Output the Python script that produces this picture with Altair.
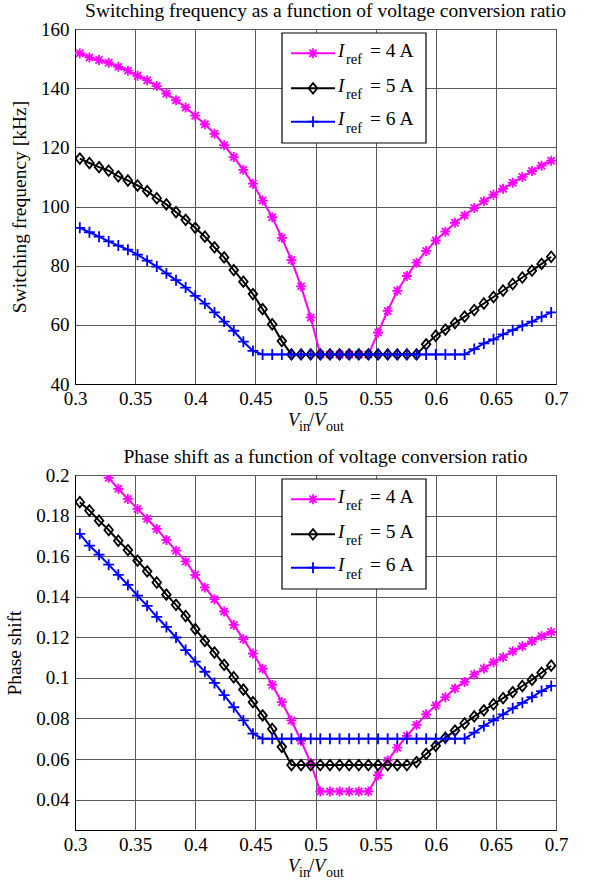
import altair as alt
import pandas as pd

# ---------------- data ----------------
x_vals = [0.304, 0.312, 0.32, 0.328, 0.336, 0.344, 0.352, 0.36, 0.368, 0.376,
          0.384, 0.392, 0.4, 0.408, 0.416, 0.424, 0.432, 0.44, 0.448, 0.456,
          0.464, 0.472, 0.48, 0.488, 0.496, 0.504, 0.512, 0.52, 0.528, 0.536,
          0.544, 0.552, 0.56, 0.568, 0.576, 0.584, 0.592, 0.6, 0.608, 0.616,
          0.624, 0.632, 0.64, 0.648, 0.656, 0.664, 0.672, 0.68, 0.688, 0.696]

freq_4A = [151.8, 150.4, 149.5, 148.6, 147.2, 145.9, 144.2, 142.7, 140.7, 138.2,
           135.9, 133.5, 130.7, 127.8, 124.6, 120.7, 116.7, 112.4, 107.7, 102.0,
           96.4, 89.4, 81.9, 73.0, 62.5, 50, 50, 50, 50, 50,
           50, 57.4, 64.7, 71.5, 76.5, 81, 85, 88.5, 91.5, 94.5,
           97, 99.5, 101.8, 104, 106, 108, 110, 112, 113.8, 115.5]
freq_5A = [116.2, 114.7, 113.3, 112.1, 110.2, 108.8, 107.1, 105.2, 102.8, 100.7,
           98.1, 95.5, 92.8, 89.8, 86.2, 82.8, 78.5, 74.6, 70.4, 65.3,
           60.2, 54.5, 50, 50, 50, 50, 50, 50, 50, 50,
           50, 50, 50, 50, 50, 50, 53.4, 56.3, 58.4, 60.6,
           62.8, 65.0, 67.2, 69.4, 71.6, 73.8, 76.0, 78.3, 80.6, 83.0]
freq_6A = [92.8, 91.3, 89.8, 88.2, 86.8, 85.4, 83.7, 81.7, 79.7, 77.4,
           75.1, 72.6, 69.8, 67.2, 64.2, 61.1, 58.0, 54.3, 51.2, 50,
           50, 50, 50, 50, 50, 50, 50, 50, 50, 50,
           50, 50, 50, 50, 50, 50, 50, 50, 50, 50,
           50, 51.8, 53.7, 55.1, 56.8, 58.2, 59.7, 61.1, 62.7, 64.2]

phase_4A = [0.2145, 0.2095, 0.2040, 0.1986, 0.1932, 0.1882, 0.1833, 0.1784, 0.1734, 0.1680,
            0.1627, 0.1574, 0.1508, 0.1446, 0.1388, 0.1327, 0.1261, 0.1191, 0.1120, 0.1045,
            0.0965, 0.0880, 0.0790, 0.0690, 0.0580, 0.044, 0.044, 0.044, 0.044, 0.044,
            0.044, 0.0520, 0.0592, 0.0656, 0.0714, 0.0768, 0.0820, 0.0864, 0.0905, 0.0948,
            0.0980, 0.1017, 0.1046, 0.1077, 0.1102, 0.1131, 0.1156, 0.1180, 0.1205, 0.1226]
phase_5A = [0.1866, 0.1825, 0.1775, 0.1729, 0.1676, 0.1630, 0.1578, 0.1525, 0.1470, 0.1410,
            0.1360, 0.1305, 0.1240, 0.1182, 0.1125, 0.1064, 0.1003, 0.0942, 0.0880, 0.0815,
            0.0748, 0.0660, 0.057, 0.057, 0.057, 0.057, 0.057, 0.057, 0.057, 0.057,
            0.057, 0.057, 0.057, 0.057, 0.057, 0.0585, 0.0625, 0.0665, 0.0705, 0.0740,
            0.0775, 0.0810, 0.0840, 0.0870, 0.0900, 0.0930, 0.0960, 0.0990, 0.1025, 0.1060]
phase_6A = [0.1710, 0.1652, 0.1607, 0.1558, 0.1508, 0.1458, 0.1405, 0.1355, 0.1301, 0.1251,
            0.1199, 0.1137, 0.1080, 0.1030, 0.0975, 0.0915, 0.0855, 0.0790, 0.0725, 0.07,
            0.07, 0.07, 0.07, 0.07, 0.07, 0.07, 0.07, 0.07, 0.07, 0.07,
            0.07, 0.07, 0.07, 0.07, 0.07, 0.07, 0.07, 0.07, 0.07, 0.07,
            0.07, 0.0730, 0.0763, 0.0791, 0.0820, 0.0850, 0.0877, 0.0905, 0.0935, 0.0960]

series_labels = ["= 4 A", "= 5 A", "= 6 A"]
x_ticks = [0.3, 0.35, 0.4, 0.45, 0.5, 0.55, 0.6, 0.65, 0.7]
freq_ticks = [40, 60, 80, 100, 120, 140, 160]
phase_ticks = [0.04, 0.06, 0.08, 0.1, 0.12, 0.14, 0.16, 0.18, 0.2]

# ---------------- styling ----------------
FONT = "Liberation Serif"
W, H = 481, 355
colors = ["#ff00ff", "#000000", "#0000ff"]
ASTERISK = "M-1,0L1,0M0,-1L0,1M-0.72,-0.72L0.72,0.72M-0.72,0.72L0.72,-0.72"
DIAMOND = "M0,-1L0.82,0L0,1L-0.82,0Z"
PLUS = "M-1,0L1,0M0,-1L0,1"
shapes = [ASTERISK, DIAMOND, PLUS]
msizes = [100, 110, 120]

one = pd.DataFrame({"a": [0]})


def txt(s, x, y, size, italic=False, align="left"):
    return alt.Chart(one).mark_text(
        text=s, font=FONT, fontSize=size, fontStyle="italic" if italic else "normal",
        align=align, baseline="alphabetic", color="black", clip=False
    ).encode(x=alt.value(x), y=alt.value(y))


def panel(series, ydomain, yticks, ytitle, title, yfmt):
    xaxis = alt.Axis(values=x_ticks, format="~g", title=None, grid=True,
                     gridColor="#5a5a5a", gridWidth=1, ticks=False,
                     domainColor="black", domainWidth=1,
                     labelFont=FONT, labelFontSize=19, labelColor="black",
                     labelPadding=5, labelFlush=False, labelOverlap=False)
    yaxis = alt.Axis(values=yticks, format=yfmt, title=ytitle, grid=True,
                     gridColor="#5a5a5a", gridWidth=1, ticks=False,
                     domainColor="black", domainWidth=1,
                     labelFont=FONT, labelFontSize=19, labelColor="black",
                     labelPadding=6, labelFlush=False, labelOverlap=False,
                     titleFont=FONT, titleFontSize=19.5, titleFontWeight="normal",
                     titleColor="black", titlePadding=11)
    xenc = alt.X("x:Q", scale=alt.Scale(domain=[0.3, 0.7], nice=False, zero=False), axis=xaxis)
    yenc = alt.Y("y:Q", scale=alt.Scale(domain=ydomain, nice=False, zero=False), axis=yaxis)
    layers = []
    for vals, col, shp, sz in zip(series, colors, shapes, msizes):
        df = pd.DataFrame({"x": x_vals, "y": vals})
        base = alt.Chart(df)
        layers.append(base.mark_line(color=col, strokeWidth=2, clip=True).encode(x=xenc, y=yenc))
        layers.append(base.mark_point(shape=shp, size=sz, filled=False, color=col, opacity=1,
                                      strokeWidth=1.8, clip=True).encode(x=xenc, y=yenc))
    # legend box
    layers.append(alt.Chart(one).mark_rect(fill="white", stroke="black", strokeWidth=1.2).encode(
        x=alt.value(207), x2=alt.value(351), y=alt.value(4), y2=alt.value(114)))
    rows = [24.3, 59.3, 92.7]
    for ry, col, shp, sz, lab in zip(rows, colors, shapes, msizes, series_labels):
        layers.append(alt.Chart(one).mark_rule(color=col, strokeWidth=2).encode(
            x=alt.value(216), x2=alt.value(260), y=alt.value(ry)))
        layers.append(alt.Chart(one).mark_point(shape=shp, size=sz, filled=False, color=col,
                                                opacity=1, strokeWidth=1.8).encode(
            x=alt.value(238), y=alt.value(ry)))
        layers.append(txt("I", 263, ry + 3.5, 19, italic=True))
        layers.append(txt("ref", 271, ry + 11, 14.5))
        layers.append(txt(lab, 295, ry + 3.5, 19.5))
    # x-axis title V_in / V_out
    by = H + 41.5
    layers.append(txt("V", 213, by, 18.5, italic=True))
    layers.append(txt("in", 224, by + 5.5, 14))
    layers.append(txt("/", 234, by, 18.5))
    layers.append(txt("V", 239, by, 18.5, italic=True))
    layers.append(txt("out", 251, by + 5.5, 14))
    # panel title
    layers.append(txt(title, W / 2 + 10, -12, 19.5, align="center"))
    return alt.layer(*layers).properties(width=W, height=H)


top = panel([freq_4A, freq_5A, freq_6A], [40, 160], freq_ticks,
            "Switching frequency [kHz]",
            "Switching frequency as a function of voltage conversion ratio", "d")
bottom = panel([phase_4A, phase_5A, phase_6A], [0.025, 0.2], phase_ticks,
               "Phase shift",
               "Phase shift as a function of voltage conversion ratio", "~g")

chart = alt.vconcat(top, bottom, spacing=11).properties(
    padding={"left": 4, "top": 0, "right": 5, "bottom": 0},
    background="white"
).configure(font=FONT).configure_axis(labelFont=FONT, titleFont=FONT).configure_text(
    font=FONT).configure_view(stroke="black", strokeWidth=1)

chart.save("out.html", embed_options={"renderer": "svg", "actions": False})
